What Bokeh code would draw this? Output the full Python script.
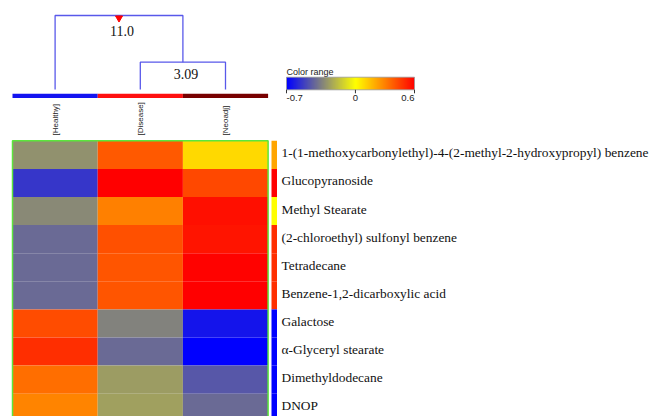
import numpy as np
from bokeh.plotting import figure
from bokeh.models import Range1d, LinearColorMapper, ColumnDataSource
from bokeh.core.properties import value
from bokeh.embed import file_html
from bokeh.resources import INLINE

# ---------------- data ----------------
groups = ["[Healthy]", "[Disease]", "[Neoadj]"]
group_colors = ["#1414F0", "#FF1010", "#780000"]
compounds = [
    "1-(1-methoxycarbonylethyl)-4-(2-methyl-2-hydroxypropyl) benzene",
    "Glucopyranoside",
    "Methyl Stearate",
    "(2-chloroethyl) sulfonyl benzene",
    "Tetradecane",
    "Benzene-1,2-dicarboxylic acid",
    "Galactose",
    "\u03b1-Glyceryl stearate",
    "Dimethyldodecane",
    "DNOP",
]
healthy = [-0.30, -0.55, -0.32, -0.41, -0.41, -0.41, 0.42, 0.49, 0.34, 0.29]
disease = [0.39, 0.60, 0.30, 0.41, 0.40, 0.40, -0.34, -0.41, -0.27, -0.26]
neoadj = [0.09, 0.43, 0.56, 0.55, 0.59, 0.60, -0.64, -0.70, -0.46, -0.41]
row_strip = [0.21, 0.60, 0.00, 0.49, 0.49, 0.49, -0.70, -0.70, -0.70, -0.70]
merge_heights = [11.0, 3.09]
color_low, color_high = -0.7, 0.6
color_ticks = [-0.7, 0, 0.6]
color_tick_labels = ["-0.7", "0", "0.6"]

# ---------------- palette ----------------
def make_palette(n=256):
    pal = []
    for k in range(n):
        v = color_low + (color_high - color_low) * k / (n - 1)
        if v <= 0:
            t = (v - color_low) / (0 - color_low)
            r, g, b = 255 * t, 255 * t, 255 * (1 - t)
        else:
            s = v / color_high
            r, g, b = 255, 255 * (1 - s), 0
        pal.append("#%02x%02x%02x" % (int(round(r)), int(round(g)), int(round(b))))
    return pal

mapper = LinearColorMapper(palette=make_palette(), low=color_low, high=color_high)

W, H = 652, 416
p = figure(width=W, height=H, x_range=Range1d(0, W), y_range=Range1d(H, 0),
           output_backend="svg", toolbar_location=None, min_border=0)
p.axis.visible = False
p.grid.visible = False
p.outline_line_color = None
p.background_fill_color = "white"

# layout
x0, cw = 12.0, 85.2
y0, rh = 140.3, 28.1
ncol, nrow = len(groups), len(compounds)

# ---------------- heatmap ----------------
cols = [healthy, disease, neoadj]
xs, ys, vs = [], [], []
for i, col in enumerate(cols):
    for j, v in enumerate(col):
        xs.append(x0 + (i + 0.5) * cw)
        ys.append(y0 + (j + 0.5) * rh)
        vs.append(v)
src = ColumnDataSource(dict(x=xs, y=ys, v=vs))
p.rect(x="x", y="y", width=cw, height=rh, source=src,
       fill_color={"field": "v", "transform": mapper}, line_color=None)
p.quad(left=[x0], right=[x0 + ncol * cw], top=[y0], bottom=[y0 + nrow * rh],
       fill_color=None, line_color="#5CE63C", line_width=1.5)

# right strip
ssrc = ColumnDataSource(dict(
    left=[271.0] * nrow, right=[276.5] * nrow,
    top=[y0 + j * rh for j in range(nrow)],
    bottom=[y0 + (j + 1) * rh for j in range(nrow)],
    v=row_strip))
p.quad(left="left", right="right", top="top", bottom="bottom", source=ssrc,
       fill_color={"field": "v", "transform": mapper}, line_color=None)

# row labels
p.text(x=[281] * nrow, y=[y0 + (j + 0.5) * rh - 2 for j in range(nrow)], text=compounds,
       text_font=value("Liberation Serif"), text_font_size="13.4px",
       text_baseline="middle", text_align="left", text_color="#111111")

# ---------------- group bar & labels ----------------
p.quad(left=[x0 + i * cw for i in range(ncol)], right=[x0 + (i + 1) * cw for i in range(ncol)],
       top=[93.3] * ncol, bottom=[97.6] * ncol, fill_color=group_colors, line_color=None)
cx = [x0 + (i + 0.5) * cw for i in range(ncol)]
p.text(x=cx, y=[135] * ncol, text=groups, angle=np.pi / 2,
       text_font=value("Liberation Sans"), text_font_size="8px",
       text_baseline="middle", text_align="left", text_color="#222222")

# ---------------- dendrogram ----------------
base = 89.0
def ypos(h):
    return base - 74.0 * (h / max(merge_heights)) ** 0.785

y_top = ypos(merge_heights[0])
y_in = ypos(merge_heights[1])
x_in = (cx[1] + cx[2]) / 2
x_top = (cx[0] + x_in) / 2
p.multi_line(
    xs=[[cx[1], cx[1], cx[2], cx[2]], [cx[0], cx[0], x_in, x_in]],
    ys=[[base, y_in, y_in, base], [base, y_top, y_top, y_in]],
    line_color="#5858EA", line_width=1.3)
p.scatter(x=[x_top], y=[y_top + 2.5], marker="inverted_triangle", size=7,
          fill_color="#FF0000", line_color="#FF0000")
p.text(x=[x_top + 3, x_in + 3], y=[y_top + 15, y_in + 12],
       text=["%.1f" % merge_heights[0], "%.2f" % merge_heights[1]],
       text_font=value("Liberation Serif"), text_font_size="14px",
       text_baseline="middle", text_align="center", text_color="#111111")

# ---------------- colour range legend ----------------
lx0, lx1 = 286.0, 414.0
ly0, ly1 = 76.7, 89.3
grad = np.linspace(color_low, color_high, 256).reshape(1, -1)
p.image(image=[grad], x=lx0, y=ly0, dw=lx1 - lx0, dh=ly1 - ly0, color_mapper=mapper)
p.quad(left=[lx0], right=[lx1], top=[ly0], bottom=[ly1], fill_color=None,
       line_color="#999999", line_width=0.8)
p.text(x=[lx0], y=[71], text=["Color range"], text_font=value("Liberation Sans"),
       text_font_size="9px", text_baseline="middle", text_align="left", text_color="#222222")
tx = [lx0 + (t - color_low) / (color_high - color_low) * (lx1 - lx0) for t in color_ticks]
p.segment(x0=tx, y0=[ly1] * 3, x1=tx, y1=[ly1 + 3.5] * 3, line_color="#333333", line_width=1)
p.text(x=tx, y=[97] * 3, text=color_tick_labels, text_font=value("Liberation Sans"),
       text_font_size="9.5px", text_baseline="middle", text_align=["left", "center", "right"],
       text_color="#222222")

open("out.html", "w").write(file_html(p, INLINE))
